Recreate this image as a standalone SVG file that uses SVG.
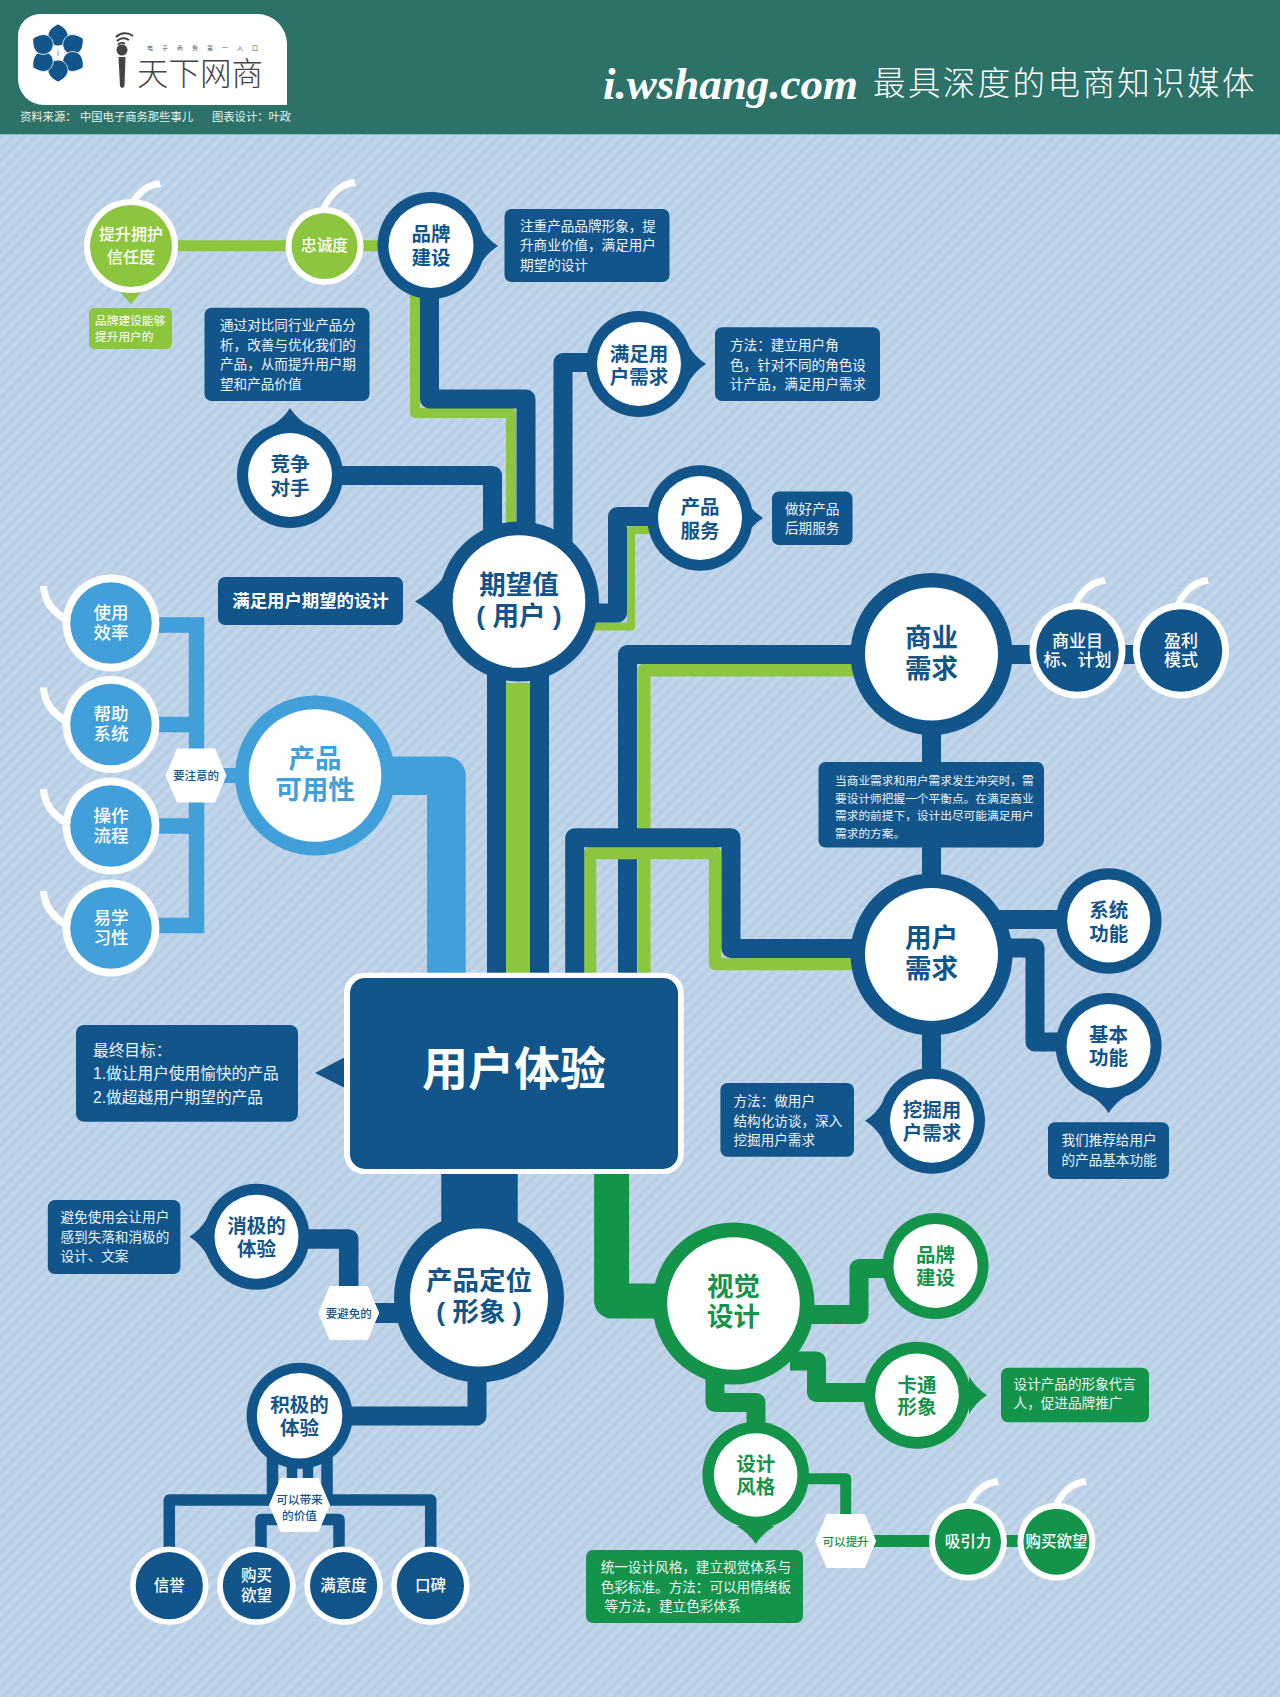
<svg xmlns="http://www.w3.org/2000/svg" xmlns:xlink="http://www.w3.org/1999/xlink" width="1280" height="1697" viewBox="0 0 1280 1697">
<style>
text{font-family:"Liberation Sans","Noto Sans CJK SC",sans-serif;dominant-baseline:central}
.m{text-anchor:middle}
.bd{font-weight:700}
.md{font-weight:500;transform:translateY(.8px)}
.tb{fill:#12558a}.tl{fill:#419fd9}.tg{fill:#14944a}.tw{fill:#fff}.td{fill:#eef4fa}
.fb{fill:#12558a}.fl{fill:#419fd9}.fg{fill:#14944a}.flg{fill:#8cc63f}.fw{fill:#fff}
.s54{font-size:26.5px}.s20{font-size:19.5px;font-weight:700;transform:translateY(1px)}.s16{font-size:15.5px}.s14{font-size:13.6px}.s12{font-size:11.6px}
.c{fill:none;stroke-linejoin:round}
.cb{stroke:#12558a}.cl{stroke:#419fd9}.cg{stroke:#14944a}.clg{stroke:#8cc63f}
</style>
<defs>
<pattern id="stripes" width="8" height="8" patternUnits="userSpaceOnUse" patternTransform="rotate(45)">
<rect width="8" height="8" fill="#c2d6eb"/>
<rect width="3.6" height="8" fill="#b7cde4"/>
</pattern>
<path id="ptr" d="M49 -19 Q56 -7 67 0 Q56 7 49 19Z"/>
<path id="hookR" class="fw" d="M-1 -4 Q-22 -2 -35 26 L-29 28 Q-18 4 1 3Z"/>
<path id="hookL" class="fw" d="M-3 0 Q-2 24 23 38 L26 31 Q5 19 4 0Z"/>
<polygon id="hex" class="fw" points="-30.5,0 -19,-27 19,-27 30.5,0 19,27 -19,27"/>
<path id="petal" class="fb" stroke="#fff" stroke-width=".7" d="M0 -29C6 -26 10 -22 10 -17A10 10 0 0 1 -10 -17C-10 -22 -6 -26 0 -29Z"/>
</defs>

<rect width="1280" height="1697" fill="url(#stripes)"/>
<rect width="1280" height="134" fill="#2c7268"/>
<rect y="134" width="1280" height="1" fill="#86bdb9"/>

<g id="logo">
<path class="fw" d="M18 36A22 22 0 0 1 40 14H257A30 30 0 0 1 287 44V105H44A26 26 0 0 1 18 79Z"/>
<g transform="translate(58 53)">
<use xlink:href="#petal" href="#petal"/>
<use xlink:href="#petal" href="#petal" transform="rotate(60)"/>
<use xlink:href="#petal" href="#petal" transform="rotate(120)"/>
<use xlink:href="#petal" href="#petal" transform="rotate(180)"/>
<use xlink:href="#petal" href="#petal" transform="rotate(240)"/>
<use xlink:href="#petal" href="#petal" transform="rotate(300)"/>
</g>
<text class="m" x="58" y="53" font-size="9" fill="#777">i</text>
<path d="M116 37A13 13 0 0 1 133 36M117 41A9 9 0 0 1 129 40M118 45A5 5 0 0 1 125 44" fill="none" stroke="#444" stroke-width="2"/>
<circle cx="122" cy="50" r="5.5" fill="#444"/>
<path d="M118.500 57H125.500L124.500 86Q122 90 120 86Z" fill="#444"/>
<text x="147" y="48" font-size="6" letter-spacing="9" fill="#555">电子商务第一入口</text>
<text x="137" y="74" font-size="31.5" font-weight="300" fill="#444">天下网商</text>
</g>
<g id="source">
<text x="20" y="117" font-size="11.3" fill="#e8f0ee">资料来源&#65306;</text>
<text x="80" y="117" font-size="11.3" fill="#e8f0ee">中国电子商务那些事儿</text>
<text x="212" y="117" font-size="11.3" fill="#e8f0ee">图表设计&#65306;叶政</text>
</g>
<g id="title">
<text x="603" y="84" style="font-family:'Liberation Serif',serif;font-weight:700;font-style:italic" font-size="45" fill="#fff">i.wshang.com</text>
<text x="873" y="84" font-size="32.5" font-weight="300" letter-spacing="2.4" fill="#fff">最具深度的电商知识媒体</text>
</g>

<g id="connectors">
<path class="c clg" stroke-width="11" d="M172 245.700H400"/>
<path class="c clg" stroke-width="10" d="M415 290V413H511V530"/>
<path class="c cb" stroke-width="19" d="M429.500 290V399H526V540"/>
<path class="c cb" stroke-width="19" d="M340 475.500H492.500V540"/>
<path class="c cb" stroke-width="19" d="M600 362.500H563V545"/>
<path class="c clg" stroke-width="8" d="M590 626.600H631V530H660"/>
<path class="c cb" stroke-width="19" d="M590 613H617.500V516.500H660"/>
<path class="c cb" stroke-width="19" d="M496.500 660V980M539.500 660V980"/>
<path class="c clg" stroke-width="24" d="M518 683V980"/>
<path class="c cl" stroke-width="38.600" d="M380 775.700H446.400V980"/>
<path class="c cl" stroke-width="15.500" style="stroke-linejoin:miter" d="M150 625H196.500V925.500H150M150 724.500H196.500M150 826H196.500"/>
<path class="c cl" stroke-width="15" d="M215 775.500H250"/>
<path class="c clg" stroke-width="13" d="M860 670H644V980"/>
<path class="c cb" stroke-width="19" d="M860 654.500H627.500V980"/>
<path class="c clg" stroke-width="12.500" d="M590 980V853H715V964H860"/>
<path class="c cb" stroke-width="19" d="M574.700 980V837.700H731V948.500H860"/>
<path class="c cb" stroke-width="19" d="M931.500 720V890M931.500 1020V1080"/>
<path class="c cb" stroke-width="19" d="M1000 654.500H1190"/>
<path class="c cb" stroke-width="19" d="M990 919.500H1070"/>
<path class="c cb" stroke-width="19" d="M990 948H1035V1042H1070"/>
<path class="c cb" stroke-width="76.500" d="M479.500 1170V1240"/>
<path class="c cg" stroke-width="35" d="M611.600 1170V1301H680"/>
<path class="c cb" stroke-width="19.500" d="M300 1239H348.700V1300"/>
<path class="c cb" stroke-width="20" d="M370 1313H420"/>
<path class="c cb" stroke-width="19" d="M340 1416H477V1370"/>
<path class="c cb" stroke-width="11.500" d="M272.500 1450V1500H169.300V1560M327 1450V1500H430.700V1560"/>
<path class="c cb" stroke-width="11.500" d="M261 1560V1519.500H300H339V1560"/>
<path class="c cb" stroke-width="10.500" d="M292 1450V1490M308 1450V1490"/>
<path class="c cg" stroke-width="19" d="M800 1314.500H859V1268.500H890"/>
<path class="c cg" stroke-width="19" d="M790 1361H816.500V1392.500H870"/>
<path class="c cg" stroke-width="19" d="M715 1370V1402.500H756V1440"/>
<path class="c cg" stroke-width="11" d="M805 1478.700H845.700V1530"/>
<path class="c cg" stroke-width="12" d="M860 1541H1040"/>
</g>

<g id="n-tisheng">
<use xlink:href="#hookR" href="#hookR" transform="translate(160 184)"/>
<polygon class="flg" points="120,292 141,292 131,304"/>
<circle cx="131" cy="246" r="47" class="fw"/><circle cx="131" cy="246" r="41" class="flg"/>
<text class="m md tw" x="131" y="234" font-size="16">提升拥护</text>
<text class="m md tw" x="131" y="257" font-size="16">信任度</text>
</g>
<g id="n-tisheng-note">
<rect x="89" y="308" width="83" height="41" rx="5" class="flg"/>
<text class="tw" x="95" y="320" font-size="11.700">品牌建设能够</text>
<text class="tw" x="95" y="336" font-size="11.700">提升用户的</text>
</g>
<g id="n-zhongcheng">
<use xlink:href="#hookR" href="#hookR" transform="translate(355 183)"/>
<circle cx="324.500" cy="246" r="39" class="fw"/><circle cx="324.500" cy="246" r="33" class="flg"/>
<text class="m md tw" x="324.500" y="245" font-size="15.700">忠诚度</text>
</g>
<g id="n-pinpai">
<use xlink:href="#ptr" href="#ptr" class="fb" transform="translate(431 246)"/>
<circle cx="431" cy="245.500" r="53.500" class="fb"/><circle cx="431" cy="245.500" r="42.500" class="fw"/>
<text class="m tb s20" x="431" y="233">品牌</text>
<text class="m tb s20" x="431" y="257">建设</text>
</g>
<g id="n-pinpai-note">
<rect x="504.500" y="209" width="165" height="73" rx="7" class="fb"/>
<text class="td s14" x="520" y="226.700">注重产品品牌形象&#65292;提</text>
<text class="td s14" x="520" y="245.700">升商业价值&#65292;满足用户</text>
<text class="td s14" x="520" y="265.500">期望的设计</text>
</g>
<g id="n-jingzheng-note">
<rect x="204.500" y="307.700" width="165" height="93.300" rx="7" class="fb"/>
<text class="td s14" x="220" y="325.700">通过对比同行业产品分</text>
<text class="td s14" x="220" y="345">析&#65292;改善与优化我们的</text>
<text class="td s14" x="220" y="364.500">产品&#65292;从而提升用户期</text>
<text class="td s14" x="220" y="384">望和产品价值</text>
</g>
<g id="n-jingzheng">
<use xlink:href="#ptr" href="#ptr" class="fb" transform="translate(290 475) rotate(-90)"/>
<circle cx="290" cy="475" r="53" class="fb"/><circle cx="290" cy="475" r="42" class="fw"/>
<text class="m tb s20" x="290" y="463">竞争</text>
<text class="m tb s20" x="290" y="487">对手</text>
</g>
<g id="n-manzu">
<use xlink:href="#ptr" href="#ptr" class="fb" transform="translate(639 364)"/>
<circle cx="639" cy="364" r="53" class="fb"/><circle cx="639" cy="364" r="42" class="fw"/>
<text class="m tb s20" x="639" y="353">满足用</text>
<text class="m tb s20" x="639" y="376">户需求</text>
</g>
<g id="n-manzu-note">
<rect x="715" y="327.300" width="165" height="73.700" rx="7" class="fb"/>
<text class="td s14" x="730" y="345.700">方法&#65306;建立用户角</text>
<text class="td s14" x="730" y="365">色&#65292;针对不同的角色设</text>
<text class="td s14" x="730" y="384.500">计产品&#65292;满足用户需求</text>
</g>
<g id="n-fuwu">
<use xlink:href="#ptr" href="#ptr" class="fb" transform="translate(696 518)"/>
<circle cx="700" cy="518" r="52.800" class="fb"/><circle cx="700" cy="518" r="42" class="fw"/>
<text class="m tb s20" x="700" y="506">产品</text>
<text class="m tb s20" x="700" y="530">服务</text>
</g>
<g id="n-fuwu-note">
<rect x="772" y="491.400" width="80.500" height="53.600" rx="7" class="fb"/>
<text class="td s14" x="785" y="509">做好产品</text>
<text class="td s14" x="785" y="528">后期服务</text>
</g>
<g id="n-qiwang">
<path class="fb" d="M445 576Q432 592 415 601.500Q432 611 445 627Z"/>
<circle cx="519" cy="601.500" r="80" class="fb"/><circle cx="519" cy="601.500" r="66.300" class="fw"/>
<text class="m bd tb s54" x="519" y="585">期望值</text>
<text class="m bd tb s54" x="519" y="615.500">( 用户 )</text>
</g>
<g id="n-qiwang-note">
<rect x="218" y="577" width="185" height="48" rx="7" class="fb"/>
<text class="m bd tw" x="310.500" y="601" font-size="17.400">满足用户期望的设计</text>
</g>

<g id="n-keyong">
<circle cx="315" cy="775.500" r="80" class="fl"/><circle cx="315" cy="775.500" r="66.300" class="fw"/>
<text class="m bd tl s54" x="315" y="759">产品</text>
<text class="m bd tl s54" x="315" y="789.500">可用性</text>
</g>
<g id="n-zhuyi">
<use xlink:href="#hex" href="#hex" transform="translate(196 775.500)"/>
<text class="m md tb" x="196" y="775" font-size="11.500">要注意的</text>
</g>
<g id="n-xiaolv">
<use xlink:href="#hookL" href="#hookL" transform="translate(43 586)"/>
<circle cx="111" cy="623" r="48.400" class="fw"/><circle cx="111" cy="623" r="40.800" class="fl"/>
<text class="m md tw" x="111" y="612" font-size="17.500">使用</text>
<text class="m md tw" x="111" y="632" font-size="17.500">效率</text>
</g>
<g id="n-bangzhu">
<use xlink:href="#hookL" href="#hookL" transform="translate(43 687.500)"/>
<circle cx="111" cy="724.500" r="48.400" class="fw"/><circle cx="111" cy="724.500" r="40.800" class="fl"/>
<text class="m md tw" x="111" y="713.500" font-size="17.500">帮助</text>
<text class="m md tw" x="111" y="733.500" font-size="17.500">系统</text>
</g>
<g id="n-caozuo">
<use xlink:href="#hookL" href="#hookL" transform="translate(43 789)"/>
<circle cx="111" cy="826" r="48.400" class="fw"/><circle cx="111" cy="826" r="40.800" class="fl"/>
<text class="m md tw" x="111" y="815" font-size="17.500">操作</text>
<text class="m md tw" x="111" y="835" font-size="17.500">流程</text>
</g>
<g id="n-yixue">
<use xlink:href="#hookL" href="#hookL" transform="translate(43 891)"/>
<circle cx="111" cy="928" r="48.400" class="fw"/><circle cx="111" cy="928" r="40.800" class="fl"/>
<text class="m md tw" x="111" y="917" font-size="17.500">易学</text>
<text class="m md tw" x="111" y="937" font-size="17.500">习性</text>
</g>

<g id="n-shangye">
<circle cx="931.500" cy="654" r="81" class="fb"/><circle cx="931.500" cy="654" r="66.500" class="fw"/>
<text class="m bd tb s54" x="931.500" y="638">商业</text>
<text class="m bd tb s54" x="931.500" y="668.500">需求</text>
</g>
<g id="n-mubiao">
<use xlink:href="#hookR" href="#hookR" transform="translate(1105 581)"/>
<circle cx="1077.500" cy="650.500" r="48" class="fw"/><circle cx="1077.500" cy="650.500" r="41.300" class="fb"/>
<text class="m md tw" x="1077.500" y="640.500" font-size="17">商业目</text>
<text class="m md tw" x="1077.500" y="660" font-size="17">标、计划</text>
</g>
<g id="n-yingli">
<use xlink:href="#hookR" href="#hookR" transform="translate(1208 581)"/>
<circle cx="1181" cy="650.500" r="48" class="fw"/><circle cx="1181" cy="650.500" r="41.300" class="fb"/>
<text class="m md tw" x="1181" y="640.500" font-size="17">盈利</text>
<text class="m md tw" x="1181" y="660" font-size="17">模式</text>
</g>
<g id="n-chongtu">
<rect x="818.500" y="762" width="225.500" height="85.500" rx="7" class="fb"/>
<text class="td" font-size="11.700" x="835" y="780.500">当商业需求和用户需求发生冲突时&#65292;需</text>
<text class="td" font-size="11.700" x="835" y="798">要设计师把握一个平衡点。在满足商业</text>
<text class="td" font-size="11.700" x="835" y="815">需求的前提下&#65292;设计出尽可能满足用户</text>
<text class="td" font-size="11.700" x="835" y="833">需求的方案。</text>
</g>
<g id="n-yonghu">
<circle cx="931.500" cy="954.400" r="81" class="fb"/><circle cx="931.500" cy="954.400" r="66.500" class="fw"/>
<text class="m bd tb s54" x="931.500" y="938">用户</text>
<text class="m bd tb s54" x="931.500" y="968.500">需求</text>
</g>
<g id="n-xitong">
<circle cx="1108.700" cy="921" r="52.800" class="fb"/><circle cx="1108.700" cy="921" r="41.500" class="fw"/>
<text class="m tb s20" x="1108.700" y="909">系统</text>
<text class="m tb s20" x="1108.700" y="932.500">功能</text>
</g>
<g id="n-jiben">
<use xlink:href="#ptr" href="#ptr" class="fb" transform="translate(1108.600 1046) rotate(90)"/>
<circle cx="1108.600" cy="1046" r="53" class="fb"/><circle cx="1108.600" cy="1046" r="42" class="fw"/>
<text class="m tb s20" x="1108.600" y="1034">基本</text>
<text class="m tb s20" x="1108.600" y="1057">功能</text>
</g>
<g id="n-jiben-note">
<rect x="1048" y="1122.300" width="121" height="56.700" rx="7" class="fb"/>
<text class="td s14" x="1061.500" y="1140">我们推荐给用户</text>
<text class="td s14" x="1061.500" y="1160">的产品基本功能</text>
</g>
<g id="n-wajue">
<use xlink:href="#ptr" href="#ptr" class="fb" transform="translate(932 1120.700) rotate(180)"/>
<circle cx="932" cy="1120.700" r="53" class="fb"/><circle cx="932" cy="1120.700" r="42" class="fw"/>
<text class="m tb s20" x="932" y="1108.500">挖掘用</text>
<text class="m tb s20" x="932" y="1131.700">户需求</text>
</g>
<g id="n-wajue-note">
<rect x="720.400" y="1083" width="133.600" height="73.700" rx="7" class="fb"/>
<text class="td s14" x="733.500" y="1101.700">方法&#65306;做用户</text>
<text class="td s14" x="733.500" y="1121">结构化访谈&#65292;深入</text>
<text class="td s14" x="733.500" y="1140">挖掘用户需求</text>
</g>

<g id="n-center">
<path class="fb" d="M345 1057L315 1073L345 1088Z"/>
<rect x="344" y="972.700" width="339.700" height="201.300" rx="20" class="fw"/>
<rect x="350" y="978" width="328" height="191" rx="15" class="fb"/>
<text class="m bd tw" x="514" y="1069" font-size="46">用户体验</text>
</g>
<g id="n-center-note">
<rect x="76" y="1025" width="222" height="96.700" rx="8" class="fb"/>
<text class="td" font-size="15.700" x="93" y="1050">最终目标&#65306;</text>
<text class="td" font-size="15.700" x="93" y="1073">1.做让用户使用愉快的产品</text>
<text class="td" font-size="15.700" x="93" y="1097">2.做超越用户期望的产品</text>
</g>

<g id="n-dingwei">
<circle cx="479" cy="1297.500" r="85" class="fb"/><circle cx="479" cy="1297.500" r="69" class="fw"/>
<text class="m bd tb s54" x="479" y="1280.500">产品定位</text>
<text class="m bd tb s54" x="479" y="1312">( 形象 )</text>
</g>
<g id="n-xiaoji">
<use xlink:href="#ptr" href="#ptr" class="fb" transform="translate(256.500 1236.700) rotate(180)"/>
<circle cx="256.500" cy="1236.700" r="53" class="fb"/><circle cx="256.500" cy="1236.700" r="42" class="fw"/>
<text class="m tb s20" x="256.500" y="1225">消极的</text>
<text class="m tb s20" x="256.500" y="1248">体验</text>
</g>
<g id="n-xiaoji-note">
<rect x="47.800" y="1200" width="132.600" height="74" rx="7" class="fb"/>
<text class="td s14" x="60.500" y="1217.700">避免使用会让用户</text>
<text class="td s14" x="60.500" y="1237">感到失落和消极的</text>
<text class="td s14" x="60.500" y="1256.700">设计、文案</text>
</g>
<g id="n-bimian">
<use xlink:href="#hex" href="#hex" transform="translate(348.700 1313)"/>
<text class="m md tb" x="348.700" y="1313" font-size="11.500">要避免的</text>
</g>
<g id="n-jiji">
<circle cx="299.600" cy="1415.700" r="53" class="fb"/><circle cx="299.600" cy="1415.700" r="42.800" class="fw"/>
<text class="m tb s20" x="299.600" y="1404">积极的</text>
<text class="m tb s20" x="299.600" y="1427">体验</text>
</g>
<g id="n-jiazhi">
<use xlink:href="#hex" href="#hex" transform="translate(299.500 1505)"/>
<text class="m md tb s12" x="299.500" y="1498.500">可以带来</text>
<text class="m md tb s12" x="299.500" y="1515">的价值</text>
</g>
<g id="n-xinyu">
<circle cx="169.300" cy="1585.700" r="39.300" class="fw"/><circle cx="169.300" cy="1585.700" r="33.600" class="fb"/>
<text class="m md tw s16" x="169.300" y="1585">信誉</text>
</g>
<g id="n-goumai1">
<circle cx="256.400" cy="1585.700" r="39.300" class="fw"/><circle cx="256.400" cy="1585.700" r="33.600" class="fb"/>
<text class="m md tw s16" x="256.400" y="1575">购买</text>
<text class="m md tw s16" x="256.400" y="1594.500">欲望</text>
</g>
<g id="n-manyi">
<circle cx="343.600" cy="1585.700" r="39.300" class="fw"/><circle cx="343.600" cy="1585.700" r="33.600" class="fb"/>
<text class="m md tw s16" x="343.600" y="1585">满意度</text>
</g>
<g id="n-koubei">
<circle cx="430.400" cy="1585.700" r="39.300" class="fw"/><circle cx="430.400" cy="1585.700" r="33.600" class="fb"/>
<text class="m md tw s16" x="430.400" y="1585">口碑</text>
</g>

<g id="n-shijue">
<circle cx="733.500" cy="1303.500" r="81" class="fg"/><circle cx="733.500" cy="1303.500" r="66.300" class="fw"/>
<text class="m bd tg s54" x="733.500" y="1286.500">视觉</text>
<text class="m bd tg s54" x="733.500" y="1317">设计</text>
</g>
<g id="n-pinpai2">
<circle cx="935.500" cy="1266" r="53" class="fg"/><circle cx="935.500" cy="1266" r="42" class="fw"/>
<text class="m tg s20" x="935.500" y="1254">品牌</text>
<text class="m tg s20" x="935.500" y="1276.700">建设</text>
</g>
<g id="n-katong">
<use xlink:href="#ptr" href="#ptr" class="fg" transform="translate(920 1395.300)"/>
<circle cx="917" cy="1395.300" r="53.500" class="fg"/><circle cx="917" cy="1395.300" r="41.800" class="fw"/>
<text class="m tg s20" x="917" y="1383.500">卡通</text>
<text class="m tg s20" x="917" y="1405.500">形象</text>
</g>
<g id="n-katong-note">
<rect x="1001" y="1367.700" width="148" height="54.600" rx="7" class="fg"/>
<text class="td s14" x="1013.600" y="1384">设计产品的形象代言</text>
<text class="td s14" x="1013.600" y="1403">人&#65292;促进品牌推广</text>
</g>
<g id="n-fengge">
<use xlink:href="#ptr" href="#ptr" class="fg" transform="translate(755.700 1477) rotate(90)"/>
<circle cx="755.700" cy="1475" r="53.300" class="fg"/><circle cx="755.700" cy="1475" r="41.800" class="fw"/>
<text class="m tg s20" x="755.700" y="1462.700">设计</text>
<text class="m tg s20" x="755.700" y="1485.700">风格</text>
</g>
<g id="n-fengge-note">
<rect x="586" y="1550" width="217" height="73" rx="7" class="fg"/>
<text class="td s14" x="600.700" y="1567.700">统一设计风格&#65292;建立视觉体系与</text>
<text class="td s14" x="600.700" y="1587">色彩标准。方法&#65306;可以用情绪板</text>
<text class="td s14" x="604.600" y="1606.700">等方法&#65292;建立色彩体系</text>
</g>
<g id="n-tisheng2">
<use xlink:href="#hex" href="#hex" transform="translate(845.700 1541)"/>
<text class="m md tg s12" x="845.700" y="1541">可以提升</text>
</g>
<g id="n-xiyin">
<use xlink:href="#hookR" href="#hookR" transform="translate(998 1482)"/>
<circle cx="968" cy="1541.700" r="39" class="fw"/><circle cx="968" cy="1541.700" r="33" class="fg"/>
<text class="m md tw s16" x="968" y="1541">吸引力</text>
</g>
<g id="n-goumai2">
<use xlink:href="#hookR" href="#hookR" transform="translate(1086 1482)"/>
<circle cx="1056.400" cy="1541.700" r="39" class="fw"/><circle cx="1056.400" cy="1541.700" r="33" class="fg"/>
<text class="m md tw s16" x="1056.400" y="1541">购买欲望</text>
</g>
</svg>
